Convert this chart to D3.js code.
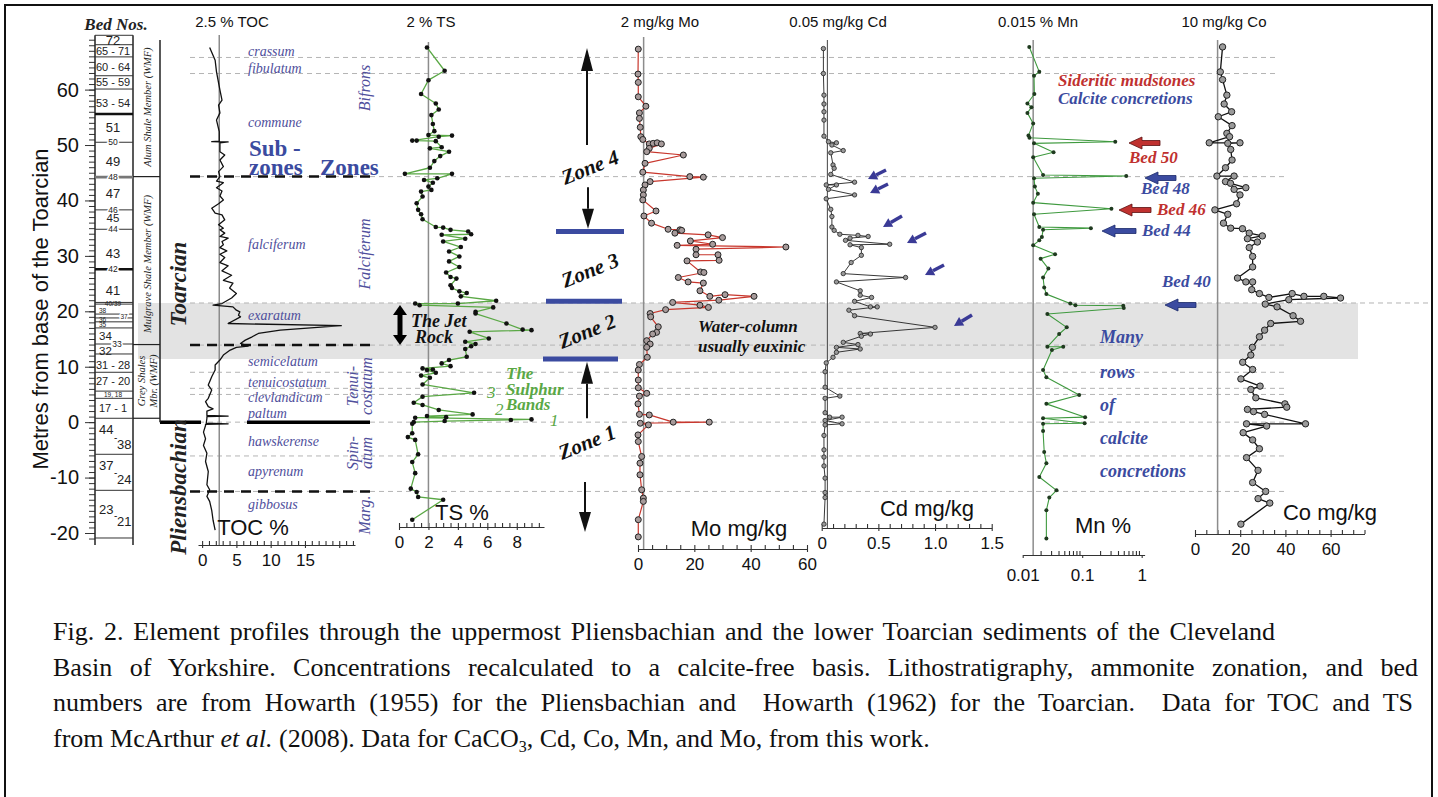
<!DOCTYPE html>
<html>
<head>
<meta charset="utf-8">
<script src="https://cdn.jsdelivr.net/npm/d3@7/dist/d3.min.js"></script>
<style>
  body { margin: 0; background: #fff; }
  svg { display: block; }
</style>
</head>
<body>
<div id="chart"></div>
<script>
// ---- data: [metres above base of Toarcian, value] ----
var tocData = [[67.6,1.1],[65.3,1.9],[63.2,2.1],[59.9,2.6],[58.1,2.9],[57.2,2.4],[55.8,2.6],[54.5,2.1],[52.4,2.5],[50.7,2.5],[50.6,1.4],[50.55,3.8],[50.4,2.6],
  [48.8,2.6],[48.2,3.3],[47.3,2.6],[46.1,3.1],[45.2,2.4],[44.3,2.6],[43.5,2.1],[43.2,3.1],[42.3,2.1],[41.7,2.9],[40.8,2.6],[40.1,3.1],[39.4,2.4],[38.6,1.4],
  [37.7,1.9],[37.4,2.9],[36.5,3.3],[35.6,2.4],[35.0,3.1],[34.7,2.6],[34.1,3.3],[33.5,2.6],[33.2,3.8],[32.6,2.9],[32.0,3.1],[31.5,2.6],[30.9,3.6],[30.3,2.6],
  [29.7,3.3],[28.8,2.6],[28.2,3.8],[27.3,2.9],[26.5,4.3],[25.6,3.1],[25.1,4.5],[24.2,4.0],[23.2,5.0],[22.4,4.3],[21.4,2.9],[21.1,1.6],[20.8,4.5],[20.2,5.0],
  [19.9,5.5],[19.3,5.3],[19.0,5.6],[17.8,3.8],[17.4,20.3],[16.6,11.4],[16.0,8.2],[15.4,7.3],[14.8,6.3],[14.2,5.6],[13.7,6.7],[13.5,5.0],[13.0,4.1],[12.1,3.1],
  [11.2,2.6],[10.3,1.9],[9.4,1.9],[8.2,1.4],[6.7,0.9],[5.8,1.4],[4.3,0.9],[3.7,0.5],[2.8,0.9],[2.4,1.6],[2.0,0.7],[1.2,0.7],[1.1,3.8],[1.0,0.7],[0.7,0.7],
  [-0.2,0.6],[-0.3,3.8],[-0.4,0.5],[-0.6,0.5],[-1.8,0.2],[-3.0,0.5],[-4.2,0.2],[-5.6,0.7],[-7.1,0.5],[-8.9,0.9],[-11.3,0.7],[-12.2,1.1],[-13.4,0.7],
  [-14.3,1.1],[-15.9,1.4],[-17.7,1.6],[-19.5,1.9]];

var tsData = [[67.6,1.9],[63.4,3.1],[61.7,2.0],[59.2,1.5],[57.5,2.5],[56.4,2.7],[55.4,2.2],[53.8,2.3],[52.5,2.4],[51.8,2.0],[51.7,3.6],[51.5,2.7],[50.8,0.9],
  [50.8,1.2],[50.7,2.5],[49.6,2.9],[49.4,2.1],[48.8,3.4],[48.0,2.8],[47.1,2.4],[45.9,2.1],[44.8,0.4],[44.8,3.6],[44.0,2.6],[43.7,1.7],[43.2,2.3],[42.5,2.0],
  [41.9,2.2],[41.6,1.5],[40.7,1.6],[39.5,1.2],[38.3,1.3],[37.5,1.5],[36.6,1.6],[35.2,2.5],[35.1,3.0],[34.7,3.5],[34.4,4.7],[33.9,4.9],[33.8,2.9],[33.1,4.5],
  [32.6,3.0],[31.6,4.2],[30.8,3.4],[29.9,4.1],[29.0,3.4],[28.0,4.1],[27.0,3.2],[26.2,3.5],[25.9,3.9],[24.7,3.5],[24.2,3.6],[23.6,4.1],[23.3,4.6],[22.7,4.2],
  [21.9,6.6],[21.4,4.0],[21.4,1.1],[21.1,1.4],[20.7,6.4],[19.9,5.2],[19.6,5.2],[17.8,7.3],[16.7,8.4],[16.6,9.0],[16.3,4.8],[15.1,6.1],[14.5,4.5],[14.1,5.2],
  [13.7,4.9],[13.2,4.5],[11.8,4.6],[11.2,3.4],[10.6,2.9],[10.1,3.5],[9.7,1.6],[9.5,2.3],[9.4,1.9],[8.9,2.5],[8.4,1.5],[8.0,2.1],[6.8,1.6],[5.3,5.1],[4.6,1.6],
  [3.5,1.0],[3.1,1.6],[2.2,2.7],[1.4,5.0],[1.1,1.9],[0.9,3.2],[0.8,1.1],[0.5,9.0],[0.4,7.6],[0.2,3.1],[0.0,1.0],[-0.3,0.9],[-2.0,0.9],[-2.7,0.6],[-3.2,1.1],
  [-5.8,1.3],[-7.2,0.9],[-9.2,1.1],[-12.0,0.8],[-12.6,1.2],[-13.5,1.3],[-14.0,3.0],[-17.6,0.9]];

var moData = [[67.3,0.1],[62.8,0],[61.3,0.1],[58.7,0.1],[57.0,2.8],[55.8,0.5],[54.8,0.5],[53.2,0.8],[51.5,1.0],[51.0,1.7],[50.2,4.0],[50.3,5.4],[50.4,6.8],
  [50.2,8.3],[49.4,4.0],[48.8,3.1],[48.2,16.1],[46.7,2.5],[45.1,1.7],[44.3,18.4],[44.2,23.2],[43.4,4.3],[42.8,2.5],[41.9,1.9],[41.0,1.9],[40.1,1.7],[38.1,6.4],
  [37.2,2.1],[35.9,4.8],[34.8,10.7],[34.7,14.9],[34.6,15.5],[34.1,13.1],[33.8,24.9],[33.3,30.0],[32.7,18.6],[32.1,26.5],[31.9,13.9],[31.6,52.5],[31.2,20.6],
  [30.2,20.6],[30.2,28.4],[29.2,28.8],[29.1,17.4],[27.1,22.2],[27.0,23.4],[26.1,14.3],[25.3,17.8],[25.1,23.2],[23.7,22.0],[22.7,25.5],[23.0,30.9],[22.7,41.2],
  [22.0,28.7],[21.6,12.3],[21.1,22.0],[20.7,25.0],[20.3,9.8],[19.6,4.3],[19.0,4.5],[17.2,7.2],[16.2,6.6],[15.9,5.2],[14.7,3.1],[14.1,4.3],[13.5,3.1],[11.7,3.3],
  [10.4,0.5],[9.4,0.1],[7.6,0.1],[6.2,0.1],[5.2,3.1],[4.7,0.5],[3.3,0],[1.4,0.5],[1.3,4.0],[0,12.5],[0,25.3],[-0.2,0.8],[-0.5,3.7],[-2.3,0],[-3.5,0.1],
  [-6.2,1.3],[-7.4,0.7],[-9.5,0.7],[-12.2,1.3],[-13.7,1.9],[-14.3,1.9],[-17.6,0.1],[-20.7,0.1]];

var cdData = [[67.4,0.015],[62.9,0.015],[59.0,0.02],[57.4,0.02],[56.0,0.02],[54.5,0.02],[51.6,0.02],[50.6,0.06],[50.4,0.13],[50.0,0.09],[49.0,0.19],[48.6,0.08],
  [46.4,0.10],[45.8,0.11],[44.7,0.08],[43.3,0.29],[42.8,0.04],[42.8,0.13],[42.0,0.06],[41.0,0.29],[40.3,0.04],[38.4,0.08],[37.1,0.09],[35.2,0.09],[34.6,0.11],
  [33.9,0.16],[33.7,0.32],[33.5,0.41],[33.2,0.25],[32.8,0.21],[32.1,0.60],[32.0,0.25],[31.5,0.35],[30.1,0.35],[28.8,0.26],[26.8,0.19],[26.1,0.74],[25.3,0.13],
  [23.7,0.34],[22.9,0.34],[22.5,0.44],[21.8,0.29],[20.8,0.43],[20.8,0.49],[20.2,0.24],[19.2,0.29],[17.1,1.0],[16.0,0.34],[15.9,0.43],[15.5,0.35],[14.4,0.19],
  [14.0,0.32],[13.5,0.13],[13.2,0.34],[12.6,0.13],[11.7,0.10],[10.7,0.04],[9.1,0.03],[6.3,0.03],[4.7,0.16],[4.3,0.03],[1.7,0.03],[0.9,0.07],[0.9,0.18],
  [0.3,0.03],[-0.3,0.18],[-0.5,0.03],[-2.4,0.02],[-5.0,0.02],[-6.3,0.02],[-7.9,0.02],[-10.1,0.03],[-12.7,0.03],[-13.6,0.03],[-18.4,0.02]];

var mnData = [[67.7,0.0129],[63.2,0.019],[62.5,0.0155],[59.2,0.0157],[57.5,0.012],[56.8,0.014],[55.8,0.012],[53.9,0.015],[51.7,0.0125],[51.3,0.013],[50.6,0.36],
  [50.3,0.0155],[48.7,0.033],[47.8,0.015],[44.6,0.022],[44.4,0.55],[44.0,0.0155],[42.5,0.016],[41.2,0.018],[39.6,0.015],[38.5,0.31],[37.5,0.0155],[35.2,0.019],
  [35.0,0.14],[34.7,0.022],[33.4,0.021],[32.8,0.019],[31.9,0.015],[30.3,0.035],[29.5,0.02],[27.7,0.027],[26.1,0.022],[24.3,0.023],[23.1,0.025],[21.4,0.063],
  [21.1,0.077],[21.0,0.49],[20.6,0.5],[19.5,0.026],[17.1,0.055],[15.9,0.041],[13.6,0.026],[13.6,0.048],[13.0,0.031],[9.4,0.022],[8.1,0.025],[4.9,0.089],
  [3.3,0.025],[0.9,0.112],[0.7,0.022],[-0.2,0.11],[-0.3,0.022],[-1.6,0.022],[-5.4,0.023],[-7.4,0.025],[-9.9,0.019],[-12.3,0.037],[-13.6,0.028],[-15.9,0.025],
  [-21.0,0.025]];

var coData = [[67.7,12.2],[63.2,11.2],[61.8,12.2],[59.0,14.1],[57.4,12.9],[56.0,16.2],[55.1,10.3],[53.5,16.4],[52.1,14.1],[51.5,15.3],[50.4,6.3],[50.4,19.9],
  [50.3,14.5],[49.2,15.8],[47.3,16.4],[45.9,13.5],[44.4,9.7],[44.4,17.3],[43.4,13.5],[43.1,15.7],[42.3,22.5],[42.0,17.3],[41.0,19.9],[39.4,18.4],[38.3,8.8],
  [37.5,14.5],[35.9,12.6],[35.0,15.8],[34.9,21.0],[34.1,24.0],[33.6,29.8],[33.1,23.2],[32.5,27.6],[31.5,24.0],[29.9,25.5],[28.0,25.5],[26.0,18.8],[25.3,22.5],
  [25.3,25.5],[23.9,25.1],[23.2,28.5],[22.5,32.7],[23.2,43.0],[22.7,48.2],[22.7,57.0],[22.4,64.4],[22.1,41.5],[21.3,31.1],[20.8,36.3],[19.2,43.4],[18.2,46.7],
  [17.8,33.5],[16.6,30.8],[15.4,28.5],[13.5,25.4],[12.1,24.7],[10.8,21.1],[9.5,25.5],[7.8,20.3],[6.5,28.8],[5.9,24.7],[4.4,26.9],[3.3,39.8],[2.7,40.6],
  [2.3,23.2],[1.9,25.9],[1.4,30.8],[-0.3,48.9],[-0.3,22.8],[-0.7,31.7],[-1.9,21.3],[-3.2,25.5],[-4.8,28.5],[-6.4,22.8],[-8.7,27.9],[-10.9,25.5],[-12.5,31.3],
  [-13.8,27.9],[-14.6,33.1],[-18.4,20.3]];

// bed column
var bedLines = [69.8, 68.1, 65.9, 62.5, 60.1, 55.6, 50.5, 44.2, 38.3, 34.8, 27.6, 21.6, 21.3, 19.5, 18.8, 18.1, 17.0, 14.1, 12.3, 9.0, 5.6, 4.3, 0.7, -5.8, -12.3, -20.9];
var thickBedLines = [55.6, 44.2, 27.6];
var bedNames = ["72", "65 - 71", "60 - 64", "55 - 59", "53 - 54", "51", "50", "49", "48", "47", "46", "45", "44", "43", "42", "41", "40/39", "38", "37", "36", "35",
  "34", "33", "32", "31 - 28", "27 - 20", "19, 18", "17 - 1"];
var bedDepths = [68.95, 67.0, 64.1, 61.4, 57.6, 53.2, 50.5, 47.1, 44.2, 41.3, 38.3, 36.8, 34.8, 30.5, 27.6, 23.8, 21.45, 20.1, 19.1, 18.45, 17.5,
  15.6, 14.1, 12.8, 10.3, 7.4, 4.95, 2.5];
var pliensNames = [["44", "38"], ["37", "24"], ["23", "21"]];
var pliensDepths = [[-1.4, -4.0], [-7.8, -10.3], [-15.7, -18.0]];

// ammonite zonation
var subzoneNames = ["crassum", "fibulatum", "commune", "falciferum", "exaratum", "semicelatum", "tenuicostatum", "clevlandicum", "paltum",
  "hawskerense", "apyrenum", "gibbosus"];
var subzoneDepths = [66.9, 63.8, 54.2, 32.2, 19.3, 11.0, 7.3, 4.5, 1.6, -3.5, -8.9, -14.8];
var subzoneBounds = [65.8, 62.9, 44.3, 21.5, 13.9, 9.0, 6.1, 5.0, 0, -6.1, -12.5];
var zoneBounds = [44.3, 13.9, -12.5];
var bandTop = 21.5, bandBottom = 11.4;
var chemZoneBounds = [34.4, 21.8, 11.4];
var yTicks = [-20, -10, 0, 10, 20, 30, 40, 50, 60];

var W = 1438, H = 797;
var sans = '"Liberation Sans", Arial, sans-serif';
var serif = '"Liberation Serif", "DejaVu Serif", serif';
var svg = d3.select("#chart").append("svg").attr("width", W).attr("height", H)
  .attr("font-family", sans);

var zoneBlue = "#4f4f9c";
var navy = "#3b4ba0";
var red = "#c0312f";
var green = "#5aa845";

// shared depth scale
var y = d3.scaleLinear().domain([-20, 60]).range([533, 89.6]);

// x scales of the six panels
var xToc = d3.scaleLinear().domain([-0.6, 22.3]).range([198, 355]);
var xTs = d3.scaleLinear().domain([0, 9.85]).range([399, 544]);
var xMo = d3.scaleLinear().domain([0, 60]).range([638, 807]);
var xCd = d3.scaleLinear().domain([0, 1.5]).range([821.7, 991.7]);
var xMn = d3.scaleLog().domain([0.01, 1.12]).range([1022.7, 1144.6]);
var xCo = d3.scaleLinear().domain([0, 75]).range([1195, 1364.5]);

// grey band (Jet Rock / euxinic interval)
svg.append("rect")
  .attr("x", 138).attr("width", 1358 - 138)
  .attr("y", y(bandTop)).attr("height", y(bandBottom) - y(bandTop))
  .attr("fill", "#e3e3e3");

// light dashed subzone boundaries
svg.append("g").selectAll("line").data(subzoneBounds).join("line")
  .attr("x1", 190)
  .attr("x2", d => d === bandTop ? 1430 : (d > 60 ? 1277 : 1288))
  .attr("y1", d => y(d)).attr("y2", d => y(d))
  .attr("stroke", "#b4b4b4").attr("stroke-width", 1).attr("stroke-dasharray", "5,4");

// heavy dashed zone boundaries and stage boundary
svg.append("g").selectAll("line").data(zoneBounds).join("line")
  .attr("x1", 190).attr("x2", 370)
  .attr("y1", d => y(d)).attr("y2", d => y(d))
  .attr("stroke", "#111").attr("stroke-width", 2.5).attr("stroke-dasharray", "10,7");
svg.append("line").attr("x1", 160).attr("x2", 201).attr("y1", y(0)).attr("y2", y(0))
  .attr("stroke", "#000").attr("stroke-width", 3.5);
svg.append("line").attr("x1", 247).attr("x2", 370).attr("y1", y(0)).attr("y2", y(0))
  .attr("stroke", "#000").attr("stroke-width", 3.5);

// ---- left depth axis and bed column ----
var yAxisMinor = d3.axisLeft(y).tickValues(d3.range(-21, 70, 1)).tickSize(6).tickFormat("");
var yAxisMajor = d3.axisLeft(y).tickValues(yTicks).tickSize(10).tickSizeOuter(0).tickPadding(6).tickFormat(d => String(d));
var gy = svg.append("g").attr("transform", "translate(95,0)");
gy.call(yAxisMinor);
gy.append("g").call(yAxisMajor);
gy.selectAll(".domain").remove();
gy.selectAll("line").attr("stroke", "#333").attr("stroke-width", 1);
gy.selectAll("text").attr("font-size", 20).attr("fill", "#111").attr("font-family", sans);

svg.append("line").attr("x1", 95).attr("x2", 95).attr("y1", y(69.8)).attr("y2", 545).attr("stroke", "#222").attr("stroke-width", 1.5);
svg.append("line").attr("x1", 133).attr("x2", 133).attr("y1", y(69.8)).attr("y2", 545).attr("stroke", "#222").attr("stroke-width", 1.5);
svg.append("line").attr("x1", 160).attr("x2", 160).attr("y1", 40).attr("y2", y(0)).attr("stroke", "#222").attr("stroke-width", 1.5);
[44.3, 14.0, 0.7].forEach(function(m) {
  svg.append("line").attr("x1", 133).attr("x2", 160).attr("y1", y(m)).attr("y2", y(m)).attr("stroke", "#222").attr("stroke-width", 1.2);
});

svg.append("g").selectAll("line").data(bedLines).join("line")
  .attr("x1", 95).attr("x2", 133)
  .attr("y1", d => y(d)).attr("y2", d => y(d))
  .attr("stroke", d => thickBedLines.includes(d) ? (d === 44.2 ? "#777" : "#111") : "#333")
  .attr("stroke-width", d => thickBedLines.includes(d) ? 2.6 : 1);

var tinyBeds = ["40/39", "38", "37", "36", "35", "19, 18"];
var onLineBeds = ["50", "48", "46", "44", "42", "33"];
function bedSize(name) {
  if (tinyBeds.includes(name)) return 6.5;
  if (onLineBeds.includes(name)) return 8.5;
  if (name === "34" || name === "32" || name === "45") return 11.5;
  return name.length > 3 ? 11 : 13;
}
svg.append("g").selectAll("text").data(bedNames).join("text")
  .attr("x", d => d === "37" ? 124 : 113)
  .attr("y", (d, i) => y(bedDepths[i]))
  .attr("dy", "0.35em")
  .attr("text-anchor", d => ["38", "36", "35", "34", "32"].includes(d) ? "start" : "middle")
  .attr("dx", d => ["38", "36", "35", "34", "32"].includes(d) ? -14 : (d === "33" ? 4 : 0))
  .attr("font-size", d => bedSize(d))
  .attr("fill", "#222")
  .attr("stroke", d => onLineBeds.includes(d) || d === "37" ? "#fff" : "none")
  .attr("stroke-width", 3).attr("paint-order", "stroke")
  .text(d => d);

pliensNames.forEach(function(pair, i) {
  svg.append("text").attr("x", 99).attr("y", y(pliensDepths[i][0])).attr("dy", "0.35em")
    .attr("font-size", 13).attr("fill", "#222").text(pair[0]);
  svg.append("text").attr("x", 114).attr("y", y((pliensDepths[i][0] + pliensDepths[i][1]) / 2)).attr("dy", "0.35em")
    .attr("font-size", 10).attr("fill", "#222").text("-");
  svg.append("text").attr("x", 117).attr("y", y(pliensDepths[i][1])).attr("dy", "0.35em")
    .attr("font-size", 13).attr("fill", "#222").text(pair[1]);
});

svg.append("text").attr("x", 40).attr("y", 309)
  .attr("transform", "rotate(-90,40,309)")
  .attr("text-anchor", "middle").attr("dy", "0.35em")
  .attr("font-size", 22).attr("fill", "#111")
  .text("Metres from base of the Toarcian");

svg.append("text").attr("x", 116).attr("y", 30).attr("text-anchor", "middle")
  .attr("font-family", serif).attr("font-style", "italic").attr("font-weight", "bold")
  .attr("font-size", 17).attr("fill", "#222").text("Bed Nos.");

function vText(txt, x, yc, size, opts) {
  opts = opts || {};
  return svg.append("text")
    .attr("x", x).attr("y", yc)
    .attr("transform", "rotate(-90," + x + "," + yc + ")")
    .attr("text-anchor", "middle").attr("dy", "0.35em")
    .attr("font-family", serif)
    .attr("font-style", "italic")
    .attr("font-weight", opts.bold ? "bold" : "normal")
    .attr("font-size", size)
    .attr("fill", opts.color || "#222")
    .text(txt);
}
vText("Alum  Shale Member (WMF)", 147, 107, 10.5);
vText("Mulgrave Shale Member (WMF)", 147, 264, 10.5);
vText("Grey Shales", 141, 381, 10.5);
vText("Mbr. (WMF)", 153, 381, 10.5);
vText("Toarcian", 178, 284, 23, {bold: true});
vText("Pliensbachian", 178, 487, 23, {bold: true});

// ammonite zones (rotated) and subzones
vText("Bifrons", 364, 88, 16, {color: zoneBlue});
vText("Falciferum", 364, 254, 16, {color: zoneBlue});
vText("Tenui-", 352, 386, 16, {color: zoneBlue});
vText("costatum", 366, 386, 16, {color: zoneBlue});
vText("Spin-", 352, 453, 16, {color: zoneBlue});
vText("atum", 366, 453, 16, {color: zoneBlue});
vText("Marg.", 364, 515, 16, {color: zoneBlue});

svg.append("g").selectAll("text").data(subzoneNames).join("text")
  .attr("x", 248).attr("y", (d, i) => y(subzoneDepths[i])).attr("dy", "0.35em")
  .attr("font-family", serif).attr("font-style", "italic")
  .attr("font-size", 14).attr("fill", zoneBlue)
  .text(d => d);

[["Sub -", 249, 156], ["zones", 249, 175], ["Zones", 320, 175]].forEach(function(t) {
  svg.append("text").attr("x", t[1]).attr("y", t[2]).attr("font-family", serif).attr("font-weight", "bold")
    .attr("font-size", 23).attr("fill", navy).text(t[0]);
});

// ---- panel axes ----
function panelAxis(scale, yPos, majors, minors, fmt, labelled, pad) {
  var g = svg.append("g").attr("transform", "translate(0," + yPos + ")");
  g.append("g").call(d3.axisBottom(scale).tickValues(minors).tickSize(-4).tickSizeOuter(0).tickFormat(""));
  var gm = g.append("g").call(d3.axisBottom(scale).tickValues(majors).tickSize(-7).tickSizeOuter(0).tickPadding(pad || 9)
    .tickFormat(d => labelled.includes(d) ? fmt(d) : ""));
  gm.select(".domain").remove();
  gm.selectAll(".tick line").attr("y2", 3);
  g.selectAll("line, path").attr("stroke", "#333").attr("stroke-width", 1.1);
  g.selectAll("text").attr("font-size", 17).attr("fill", "#111").attr("font-family", sans);
  return g;
}
panelAxis(xToc, 545, [0, 5, 10, 15, 20], d3.range(0, 23, 1), d3.format("d"), [0, 5, 10, 15]);
panelAxis(xTs, 527, [0, 2, 4, 6, 8], d3.range(0, 10, 0.5), d3.format("d"), [0, 2, 4, 6, 8]);
panelAxis(xMo, 549, [0, 20, 40, 60], d3.range(0, 61, 5), d3.format("d"), [0, 20, 40, 60]);
panelAxis(xCd, 528, [0, 0.5, 1.0, 1.5], d3.range(0, 1.51, 0.1), d => d === 0 ? "0" : d3.format(".1f")(d), [0, 0.5, 1.0, 1.5]);
var mnMinor = [];
[0.01, 0.1].forEach(function(b) { for (var k = 2; k <= 9; k++) mnMinor.push(b * k); });
panelAxis(xMn, 555, [0.01, 0.1, 1], mnMinor, d => d === 1 ? "1" : String(d), [0.01, 0.1, 1], 14);
panelAxis(xCo, 534, [0, 20, 40, 60], d3.range(0, 76, 5), d3.format("d"), [0, 20, 40, 60]);

// reference lines with headers
var refs = [
  {s: xToc, v: 2.5, top: 35, bot: 545, label: "2.5 % TOC", lx: 232},
  {s: xTs, v: 2, top: 42, bot: 527, label: "2 % TS", lx: 431},
  {s: xMo, v: 2, top: 37, bot: 549, label: "2 mg/kg Mo", lx: 660},
  {s: xCd, v: 0.05, top: 40, bot: 528, label: "0.05 mg/kg Cd", lx: 838},
  {s: xMn, v: 0.015, top: 40, bot: 555, label: "0.015 % Mn", lx: 1038},
  {s: xCo, v: 10, top: 40, bot: 534, label: "10 mg/kg Co", lx: 1224}
];
refs.forEach(function(r) {
  svg.append("line").attr("x1", r.s(r.v)).attr("x2", r.s(r.v)).attr("y1", r.top).attr("y2", r.bot)
    .attr("stroke", r.v === 0.05 ? "#444" : "#8c8c8c").attr("stroke-width", r.v === 0.05 ? 1 : 1.5);
  svg.append("text").attr("x", r.lx).attr("y", 27).attr("text-anchor", "middle")
    .attr("font-size", 15).attr("fill", "#111").text(r.label);
});

// axis titles
[["TOC %", 253, 535], ["TS %", 462, 520], ["Mo mg/kg", 739, 536], ["Cd mg/kg", 927, 516], ["Mn %", 1103, 533], ["Co mg/kg", 1330, 520]]
  .forEach(function(t) {
    svg.append("text").attr("x", t[1]).attr("y", t[2]).attr("text-anchor", "middle")
      .attr("font-size", 22).attr("fill", "#111").text(t[0]);
  });

// ---- profiles ----
function profile(data, xs, st) {
  var line = d3.line().x(d => xs(d[1])).y(d => y(d[0]));
  svg.append("path").datum(data).attr("d", line)
    .attr("fill", "none").attr("stroke", st.line).attr("stroke-width", st.lw).attr("stroke-linejoin", "round");
  if (st.r) {
    svg.append("g").selectAll("circle").data(data).join("circle")
      .attr("cx", d => xs(d[1])).attr("cy", d => y(d[0])).attr("r", st.r)
      .attr("fill", st.fill).attr("stroke", st.stroke || "none").attr("stroke-width", st.sw || 0);
  }
}
profile(tocData, xToc, {line: "#111", lw: 1.3});
profile(tsData, xTs, {line: green, lw: 1.3, r: 2.3, fill: "#111"});
profile(moData, xMo, {line: "#c8372d", lw: 1.2, r: 3, fill: "#a79b9b", stroke: "#222", sw: 1});
profile(cdData, xCd, {line: "#222", lw: 0.9, r: 2.2, fill: "#999", stroke: "#222", sw: 0.8});
profile(mnData, xMn, {line: "#3f9a3f", lw: 1.1, r: 2, fill: "#1f3a1f"});
profile(coData, xCo, {line: "#111", lw: 1.3, r: 3.2, fill: "#9a9a9a", stroke: "#222", sw: 1});

// ---- annotations ----
function arrow(x1, y1, x2, y2, len, half, color, lw) {
  var a = Math.atan2(y2 - y1, x2 - x1);
  var bx = x2 - len * Math.cos(a), by = y2 - len * Math.sin(a);
  svg.append("line").attr("x1", x1).attr("y1", y1).attr("x2", bx).attr("y2", by)
    .attr("stroke", color).attr("stroke-width", lw);
  var px = -Math.sin(a) * half, py = Math.cos(a) * half;
  svg.append("path")
    .attr("d", "M" + x2 + "," + y2 + "L" + (bx + px) + "," + (by + py) + "L" + (bx - px) + "," + (by - py) + "Z")
    .attr("fill", color);
}
function blockArrow(x1, x2, yc, fill, edge) {
  var p = [[x2, yc], [x2 + 13, yc - 6], [x2 + 13, yc - 2.5], [x1, yc - 2.5], [x1, yc + 2.5], [x2 + 13, yc + 2.5], [x2 + 13, yc + 6]];
  svg.append("path").attr("d", "M" + p.join("L") + "Z").attr("fill", fill).attr("stroke", edge).attr("stroke-width", 0.8);
}

// chemical zone bars and arrows
var barX = [[556, 624], [546, 622], [543, 618]];
chemZoneBounds.forEach(function(m, i) {
  svg.append("line").attr("x1", barX[i][0]).attr("x2", barX[i][1]).attr("y1", y(m)).attr("y2", y(m))
    .attr("stroke", navy).attr("stroke-width", 5);
});
arrow(587, y(50.0), 587, y(67.5), 23, 6, "#111", 2);
arrow(588, y(42.4), 588, y(34.9), 20, 6, "#111", 2);
arrow(587, y(0.7), 587, y(10.9), 22, 6, "#111", 2);
arrow(585, y(-10.8), 585, y(-19.8), 20, 6, "#111", 2);
[["Zone 4", 590, 167], ["Zone 3", 590, 270], ["Zone 2", 587, 331], ["Zone 1", 587, 442]].forEach(function(z) {
  svg.append("text").attr("x", z[1]).attr("y", z[2]).attr("transform", "rotate(-22," + z[1] + "," + z[2] + ")")
    .attr("text-anchor", "middle").attr("dy", "0.35em")
    .attr("font-family", serif).attr("font-style", "italic").attr("font-weight", "bold")
    .attr("font-size", 21).attr("fill", "#111").text(z[0]);
});

// Jet Rock
arrow(400, 325, 400, 305, 10, 7, "#000", 5);
arrow(400, 325, 400, 345, 10, 7, "#000", 5);
svg.append("text").attr("x", 411).attr("y", 327).attr("font-family", serif).attr("font-style", "italic").attr("font-weight", "bold")
  .attr("font-size", 18).attr("fill", "#111").text("The Jet");
svg.append("text").attr("x", 415).attr("y", 343).attr("font-family", serif).attr("font-style", "italic").attr("font-weight", "bold")
  .attr("font-size", 18).attr("fill", "#111").text("Rock");

// Sulphur bands
[["The", 379], ["Sulphur", 395], ["Bands", 410]].forEach(function(t) {
  svg.append("text").attr("x", 506).attr("y", t[1]).attr("font-family", serif).attr("font-style", "italic")
    .attr("font-weight", "bold").attr("font-size", 17).attr("fill", green).text(t[0]);
});
[["3", 487, 398], ["2", 495, 415], ["1", 550, 426]].forEach(function(t) {
  svg.append("text").attr("x", t[1]).attr("y", t[2]).attr("font-family", serif).attr("font-style", "italic")
    .attr("font-size", 17).attr("fill", green).text(t[0]);
});

// euxinic note
svg.append("text").attr("x", 698).attr("y", 332).attr("font-family", serif).attr("font-style", "italic").attr("font-weight", "bold")
  .attr("font-size", 17).attr("fill", "#111").text("Water-column");
svg.append("text").attr("x", 698).attr("y", 352).attr("font-family", serif).attr("font-style", "italic").attr("font-weight", "bold")
  .attr("font-size", 17).attr("fill", "#111").text("usually euxinic");

// Cd arrows
[[886, 170, 868, 179], [888, 184, 870, 193], [902, 216, 883, 227], [926, 233, 907, 243], [944, 265, 925, 275], [972, 315, 954, 326]]
  .forEach(function(a) { arrow(a[0], a[1], a[2], a[3], 9, 5, "#3a3a96", 3.5); });

// Mn annotations
function mnText(txt, x, yb, color, size) {
  svg.append("text").attr("x", x).attr("y", yb).attr("font-family", serif).attr("font-style", "italic")
    .attr("font-weight", "bold").attr("font-size", size || 17).attr("fill", color).text(txt);
}
mnText("Sideritic mudstones", 1058, 86, red);
mnText("Calcite concretions", 1058, 104, navy);
blockArrow(1160, 1129, 143, red, "#5a1010");
mnText("Bed 50", 1129, 163, red);
blockArrow(1176, 1145, 178, navy, "#1a2a6a");
mnText("Bed 48", 1141, 194, navy);
blockArrow(1151, 1119, 210, red, "#5a1010");
mnText("Bed 46", 1157, 215, red);
blockArrow(1136, 1102, 231, navy, "#1a2a6a");
mnText("Bed 44", 1142, 236, navy);
mnText("Bed 40", 1162, 287, navy);
blockArrow(1196, 1165, 305, navy, "#1a2a6a");
[["Many", 343], ["rows", 378], ["of", 411], ["calcite", 444], ["concretions", 477]].forEach(function(t) {
  mnText(t[0], 1100, t[1], navy, 18);
});

// caption: first three lines justified by widening the word gaps
var caption = [
  "Fig. 2. Element profiles through the uppermost Pliensbachian and the lower Toarcian sediments of the Cleveland",
  "Basin of Yorkshire. Concentrations recalculated to a calcite-free basis. Lithostratigraphy, ammonite zonation, and bed",
  "numbers are from Howarth (1955) for the Pliensbachian and  Howarth (1962) for the Toarcian.  Data for TOC and TS"
];
var captionWidths = [1222, 1365, 1360];
caption.forEach(function(c, i) {
  var t = svg.append("text").attr("x", 53).attr("y", 640 + i * 35.5).attr("font-family", serif)
    .attr("font-size", 26).attr("fill", "#111").style("white-space", "pre").text(c);
  var natural = t.node().getComputedTextLength();
  var gaps = c.split(" ").length - 1;
  if (natural < captionWidths[i]) t.style("word-spacing", ((captionWidths[i] - natural) / gaps) + "px");
});
var last = svg.append("text").attr("x", 53).attr("y", 746.5).attr("font-family", serif)
  .attr("font-size", 26).attr("fill", "#111");
last.append("tspan").text("from McArthur ");
last.append("tspan").attr("font-style", "italic").text("et al.");
last.append("tspan").text(" (2008). Data for CaCO");
last.append("tspan").attr("font-size", 16).attr("dy", 5).text("3");
last.append("tspan").attr("dy", -5).text(", Cd, Co, Mn, and Mo, from this work.");

// frame
svg.append("rect").attr("x", 5).attr("y", 5).attr("width", 1427).attr("height", 820)
  .attr("fill", "none").attr("stroke", "#111").attr("stroke-width", 2);
</script>
</body>
</html>
